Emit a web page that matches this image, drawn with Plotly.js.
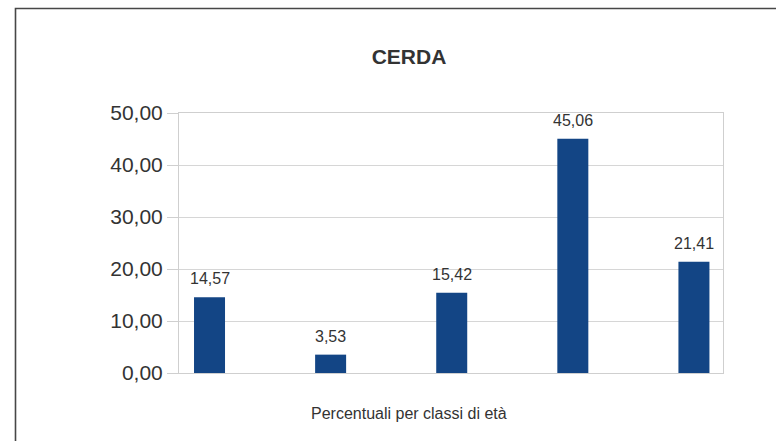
<!DOCTYPE html>
<html>
<head>
<meta charset="utf-8">
<script src="https://cdn.plot.ly/plotly-3.0.1.min.js"></script>
<style>
html,body{margin:0;padding:0;background:#fff;}
#chart{width:776px;height:441px;}
</style>
</head>
<body>
<div id="chart"></div>
<script>
// Data
var categories = ["1", "2", "3", "4", "5"];
var values = [14.57, 3.53, 15.42, 45.06, 21.41];
var valueLabels = ["14,57", "3,53", "15,42", "45,06", "21,41"];
var tickValues = [0, 10, 20, 30, 40, 50];
var tickLabels = ["0,00", "10,00", "20,00", "30,00", "40,00", "50,00"];
var chartTitle = "CERDA";
var xTitle = "Percentuali per classi di età";

var FONT = "Liberation Sans, Arial, sans-serif";
var TXT = "#333333";

var trace = {
  type: "bar",
  x: categories,
  y: values,
  marker: {color: "#134585", line: {width: 0}},
  hoverinfo: "none"
};

var annotations = categories.map(function (c, i) {
  return {
    x: i, y: values[i], xref: "x", yref: "y",
    text: valueLabels[i], showarrow: false,
    yanchor: "bottom", yshift: 8,
    font: {family: FONT, size: 16, color: TXT}
  };
});
annotations.push({
  text: xTitle, showarrow: false,
  xref: "paper", yref: "paper",
  x: (409 - 179) / 544, y: (373 - 413) / 260,
  xanchor: "center", yanchor: "middle",
  font: {family: FONT, size: 16, color: TXT}
});

var layout = {
  width: 776, height: 441,
  paper_bgcolor: "#ffffff", plot_bgcolor: "#ffffff",
  margin: {l: 179, r: 53, t: 113, b: 68, pad: 0},
  showlegend: false,
  bargap: 0.744,
  title: {
    text: "<b>" + chartTitle + "</b>",
    xref: "paper", yref: "paper",
    x: (409 - 179) / 544, y: (373 - 50) / 260,
    xanchor: "center", yanchor: "middle",
    font: {family: FONT, size: 21, color: TXT}
  },
  xaxis: {
    type: "category",
    range: [-0.252, 4.24],
    showticklabels: false,
    ticks: "",
    showgrid: false,
    zeroline: false,
    showline: true, linecolor: "#cfcfcf", linewidth: 1, mirror: true
  },
  yaxis: {
    range: [0, 50],
    tickvals: tickValues,
    ticktext: tickLabels,
    ticks: "outside", ticklen: 11, tickcolor: "#cfcfcf", tickwidth: 1,
    tickfont: {family: FONT, size: 21, color: TXT},
    showgrid: true, gridcolor: "#d6d6d6", gridwidth: 1,
    zeroline: false,
    showline: true, linecolor: "#cfcfcf", linewidth: 1, mirror: true
  },
  annotations: annotations,
  shapes: [{
    type: "rect", xref: "paper", yref: "paper",
    x0: (15.5 - 179) / 544, x1: 2,
    y0: -1, y1: (373 - 8.5) / 260,
    line: {color: "#474747", width: 1.6},
    fillcolor: "rgba(0,0,0,0)", layer: "below"
  }]
};

Plotly.newPlot("chart", [trace], layout, {staticPlot: true, displayModeBar: false});
</script>
</body>
</html>
